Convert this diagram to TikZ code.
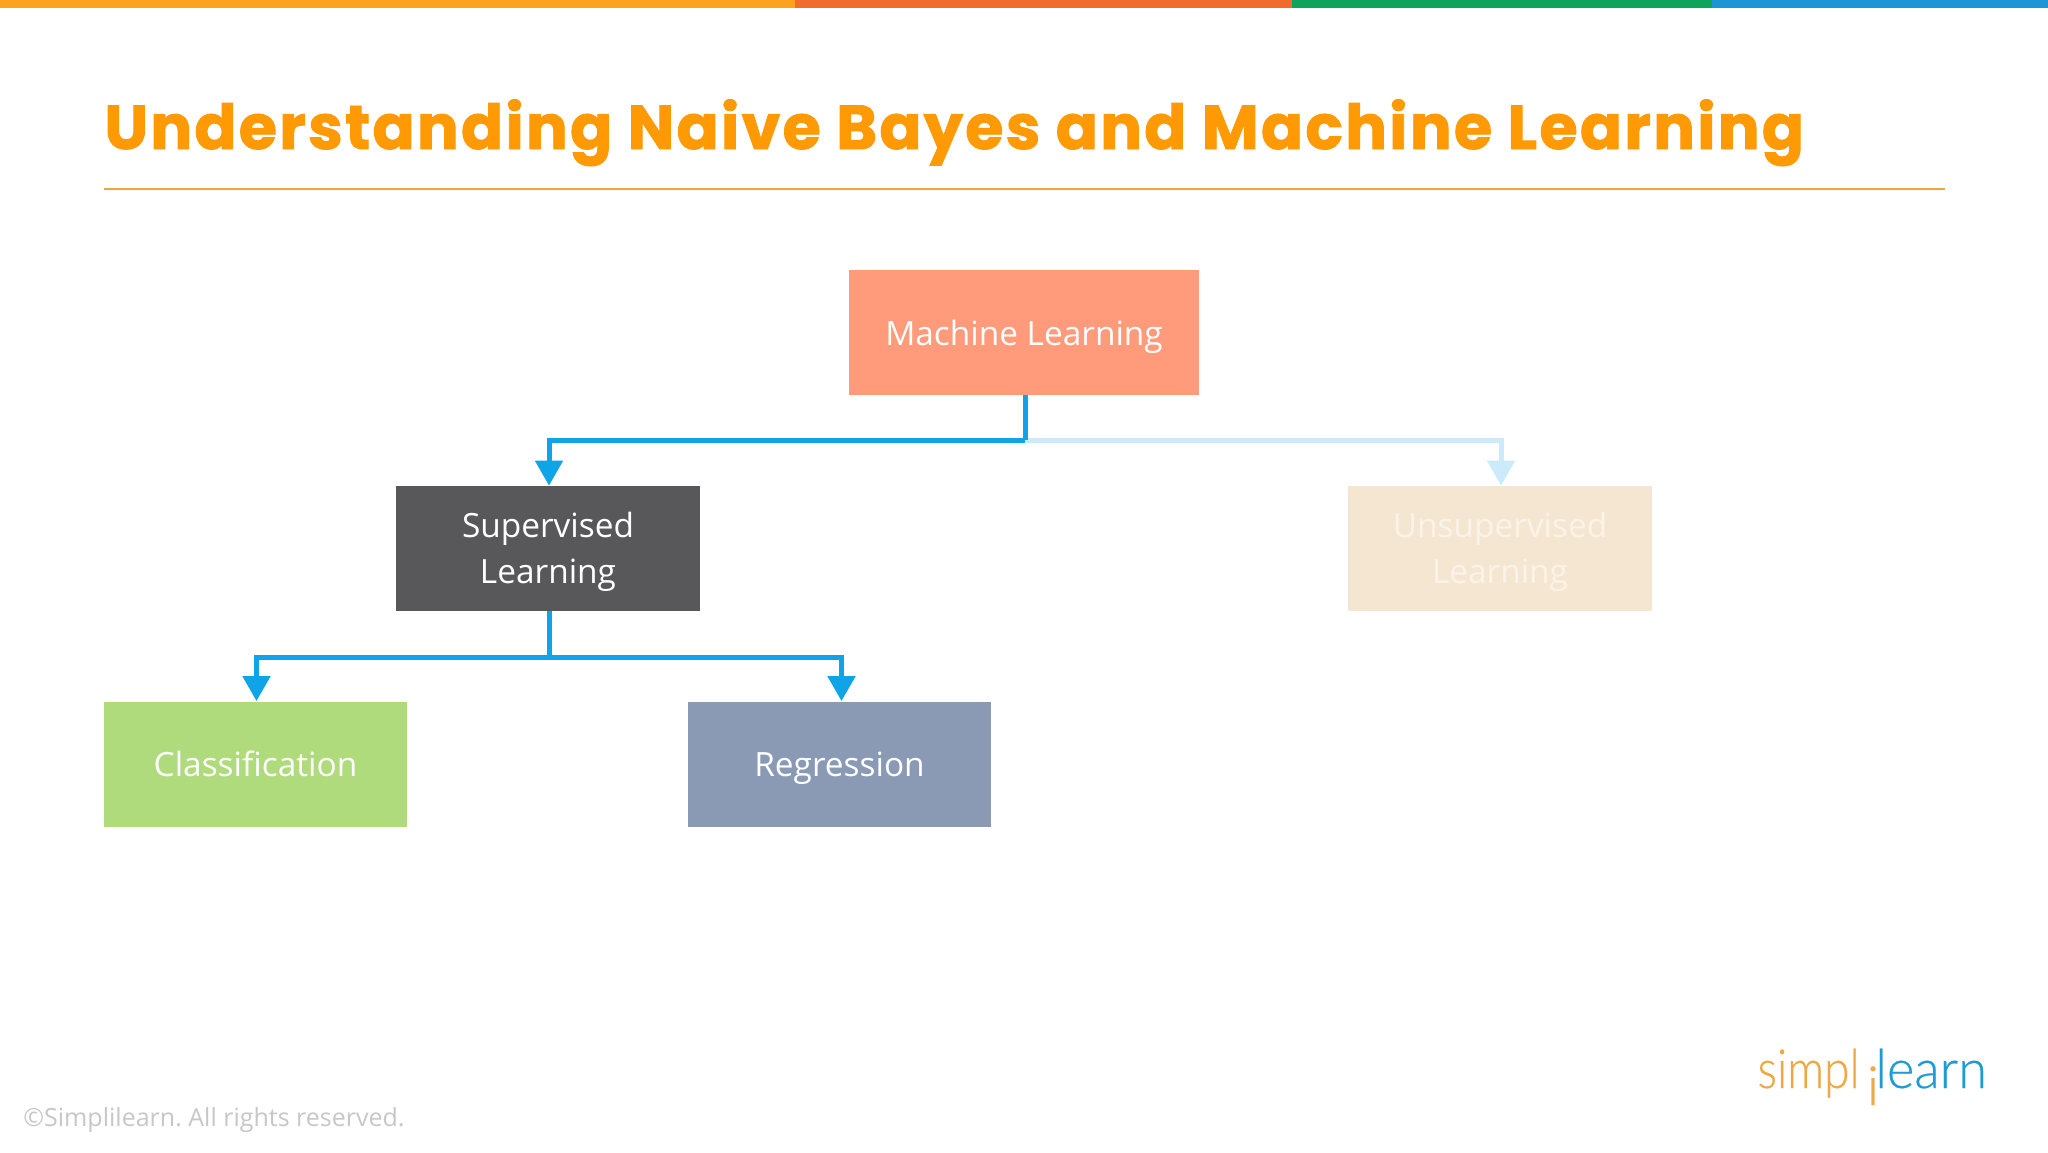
\documentclass[tikz,border=0pt]{standalone}
\usepackage{fontspec}
\setmainfont{Open Sans}
\newfontfamily\titlefont[FakeBold=1.5,LetterSpace=3.7]{Poppins Bold}
\newfontfamily\logofont[FakeBold=0.4]{Lato Light}
\usetikzlibrary{arrows.meta}
\definecolor{barA}{HTML}{FCA21C}
\definecolor{barB}{HTML}{F26B2E}
\definecolor{barC}{HTML}{10A35C}
\definecolor{barD}{HTML}{1B95D6}
\definecolor{titleC}{HTML}{FF9A05}
\definecolor{ruleC}{HTML}{F4A33E}
\definecolor{mlC}{HTML}{FF9A7B}
\definecolor{supC}{HTML}{58585A}
\definecolor{unsC}{HTML}{F5E6D1}
\definecolor{unsT}{HTML}{FBF3E8}
\definecolor{claC}{HTML}{B0DB7D}
\definecolor{regC}{HTML}{8A9AB5}
\definecolor{linkC}{HTML}{0FA3E8}
\definecolor{paleC}{HTML}{CBEBFA}
\definecolor{logoO}{HTML}{EEA944}
\definecolor{logoB}{HTML}{1F9AD6}
\tikzset{
  box/.style={minimum width=151.75pt,minimum height=62.5pt,inner sep=0pt,align=center,text=white,font=\fontsize{16.7}{22.9}\selectfont,text height=12.7pt,text depth=0pt},
  twoline/.style={text height=35.2pt,text depth=0pt},
  link/.style={draw=linkC,line width=2.5pt,-{Triangle[length=12.5pt,width=13.5pt]}},
  stem/.style={draw=linkC,line width=2.5pt},
  palelink/.style={draw=paleC,line width=2.5pt,-{Triangle[length=12.5pt,width=13.5pt]}},
  logo/.style={inner sep=0pt,font=\logofont\fontsize{27}{27}\selectfont},
}
\begin{document}
\begin{tikzpicture}[x=0.5pt,y=-0.5pt]
\useasboundingbox (0,0) rectangle (2048,1152);
\fill[white] (0,0) rectangle (2048,1152);
\fill[barA] (0,0) rectangle (795,8);
\fill[barB] (795,0) rectangle (1292,8);
\fill[barC] (1292,0) rectangle (1712,8);
\fill[barD] (1712,0) rectangle (2048,8);
\node[anchor=base west,inner sep=0pt,text=titleC,font=\titlefont\fontsize{31}{31}\selectfont] (title) at (104,149) {Understanding Naive Bayes and Machine Learning};
\draw[ruleC,line width=1.2pt] (104,189) -- (1945,189);

\node[box,fill=mlC,minimum width=175pt] (ml) at (1024,332.5) {Machine Learning};
\node[box,twoline,fill=supC] (sup) at (548,548.5) {Supervised\\Learning};
\node[box,twoline,fill=unsC,text=unsT] (uns) at (1500,548.5) {Unsupervised\\Learning};
\node[box,fill=claC] (cla) at (255.5,764) {Classification};
\node[box,fill=regC] (reg) at (839.5,764) {Regression};

\coordinate (j1) at (1025,440);
\coordinate (j2) at (549,657);
\draw[palelink] (j1) -| ([xshift=0.5pt]uns.north);
\draw[stem] ([xshift=0.5pt]ml.south) -- (j1);
\draw[link] (j1) -| ([xshift=0.5pt]sup.north);
\draw[stem] ([xshift=0.5pt]sup.south) -- (j2);
\draw[link] (j2) -| ([xshift=0.5pt]cla.north);
\draw[link] (j2) -| ([xshift=1pt]reg.north);

\node[anchor=base west,inner sep=0pt,text=black!22,font=\fontsize{12.5}{13}\selectfont] (copy) at (23,1126) {\frenchspacing ©Simplilearn. All rights reserved.};

\node[logo,text=logoO,anchor=base east] (simpl) at (1860,1088) {\scalebox{0.85}[1]{simpl}};
\node[logo,text=logoO,anchor=base] (ii) at (1873,1105) {i};
\node[logo,text=logoB,anchor=base west] (learn) at (1880,1088) {\kern-2.5pt\scalebox{0.97}[1]{learn}};
\end{tikzpicture}
\end{document}
